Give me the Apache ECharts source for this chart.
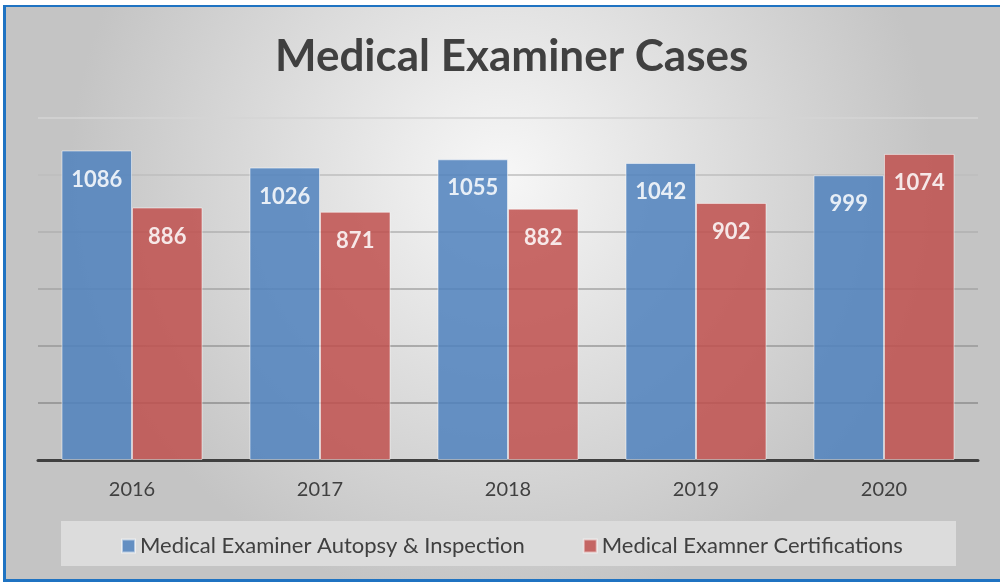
<!DOCTYPE html>
<html>
<head>
<meta charset="utf-8">
<script src="https://cdn.jsdelivr.net/npm/echarts@6/dist/echarts.min.js"></script>
<style>
  html, body { margin: 0; padding: 0; background: #fff; }
  #main { width: 1000px; height: 582px; }
</style>
</head>
<body>
<div id="main"></div>
<script>
const years = ['2016', '2017', '2018', '2019', '2020']
const autopsy = [1086, 1026, 1055, 1042, 999]
const certifications = [886, 871, 882, 902, 1074]
const seriesNames = ['Medical Examiner Autopsy & Inspection', 'Medical Examner Certifications']

const chart = echarts.init(document.getElementById('main'))

const barLabel = {
  show: true,
  position: 'insideTop',
  distance: 18,
  color: '#fff',
  fontFamily: 'Lato',
  fontWeight: 'bold',
  fontSize: 22
}

const option = {
  backgroundColor: '#fff',
  animation: false,
  title: {
    text: 'Medical Examiner Cases',
    left: 270,
    top: 30,
    textStyle: {
      fontFamily: 'Lato',
      fontWeight: 'bold',
      fontSize: 44,
      color: '#404040'
    }
  },
  graphic: [
    {
      type: 'rect',
      z: -10,
      shape: { x: 3, y: 5, width: 997, height: 576 },
      style: {
        fill: {
          type: 'radial', x: 0.5, y: 0.3, r: 0.75,
          colorStops: [
            { offset: 0, color: '#f7f7f7' },
            { offset: 1, color: '#c4c4c4' }
          ]
        }
      }
    },
    // legend box
    {
      type: 'rect',
      z: -5,
      shape: { x: 61, y: 521, width: 895, height: 45 },
      style: { fill: '#dcdcdc' }
    },
    // blue frame
    { type: 'rect', z: 10, shape: { x: 3, y: 5, width: 997, height: 2 }, style: { fill: '#1f73c2' } },
    { type: 'rect', z: 10, shape: { x: 3, y: 5, width: 3, height: 577 }, style: { fill: '#1f73c2' } },
    { type: 'rect', z: 10, shape: { x: 3, y: 579, width: 997, height: 3 }, style: { fill: '#1f73c2' } }
  ],
  legend: {
    left: 116,
    top: 530,
    itemWidth: 13,
    itemHeight: 13,
    itemGap: 58,
    icon: 'rect',
    textStyle: { fontFamily: 'Lato', fontSize: 22, color: '#404040' },
    data: seriesNames
  },
  grid: { left: 38, right: 22, top: 118, bottom: 122 },
  xAxis: {
    type: 'category',
    data: years,
    axisTick: { show: false },
    axisLine: { lineStyle: { color: '#404040', width: 3 } },
    axisLabel: { margin: 20, fontFamily: 'Lato', fontSize: 20, color: '#404040' }
  },
  yAxis: {
    type: 'value',
    min: 0,
    max: 1200,
    interval: 200,
    axisLabel: { show: false },
    axisLine: { show: false },
    axisTick: { show: false },
    splitLine: {
      lineStyle: {
        width: 1.5,
        color: ['#999', '#8e8e8e', '#999', '#a4a4a4', '#b0b0b0', '#bebebe', '#d4d4d4']
      }
    }
  },
  series: [
    {
      name: seriesNames[0],
      type: 'bar',
      data: autopsy,
      barGap: '0%',
      barCategoryGap: '25%',
      itemStyle: { color: '#4f81bd', opacity: 0.85, borderColor: 'rgba(255,255,255,0.6)', borderWidth: 1 },
      label: barLabel
    },
    {
      name: seriesNames[1],
      type: 'bar',
      data: certifications,
      itemStyle: { color: '#c0504d', opacity: 0.85, borderColor: 'rgba(255,255,255,0.6)', borderWidth: 1 },
      label: barLabel
    }
  ]
}

chart.setOption(option)
</script>
</body>
</html>
